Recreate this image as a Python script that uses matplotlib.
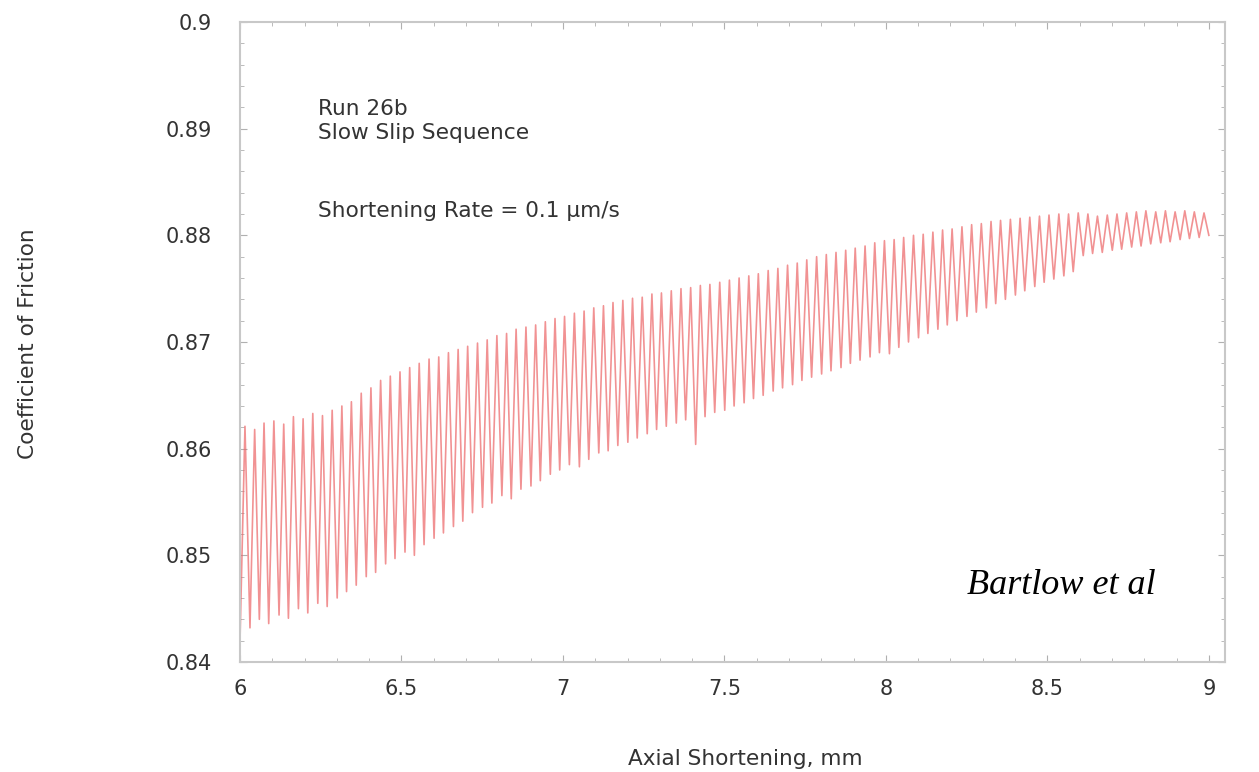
import numpy as np
import matplotlib.pyplot as plt
from matplotlib.ticker import MultipleLocator

# slip positions (mm), trough after each slip, peak before each slip
slip_x = [6.000, 6.031, 6.060, 6.089, 6.121, 6.150, 6.181, 6.210, 6.241, 6.270,
          6.301, 6.330, 6.360, 6.391, 6.420, 6.451, 6.480, 6.511, 6.540, 6.570,
          6.601, 6.630, 6.661, 6.690, 6.720, 6.751, 6.780, 6.811, 6.840, 6.870,
          6.901, 6.930, 6.961, 6.990, 7.020, 7.051, 7.080, 7.111, 7.140, 7.170,
          7.201, 7.230, 7.261, 7.290, 7.320, 7.351, 7.380, 7.411, 7.440, 7.470,
          7.501, 7.530, 7.561, 7.590, 7.620, 7.651, 7.680, 7.711, 7.740, 7.770,
          7.801, 7.830, 7.861, 7.890, 7.920, 7.951, 7.980, 8.011, 8.040, 8.070,
          8.101, 8.130, 8.161, 8.190, 8.220, 8.251, 8.280, 8.311, 8.340, 8.370,
          8.401, 8.430, 8.461, 8.490, 8.520, 8.551, 8.580, 8.611, 8.640, 8.670,
          8.701, 8.730, 8.761, 8.790, 8.820, 8.851, 8.880, 8.911, 8.940, 8.970,
          9.000]

trough = [0.8418, 0.8432, 0.8440, 0.8436, 0.8444, 0.8441, 0.8450, 0.8446, 0.8455, 0.8452,
          0.8460, 0.8466, 0.8472, 0.8480, 0.8484, 0.8492, 0.8497, 0.8503, 0.8500, 0.8510,
          0.8516, 0.8521, 0.8527, 0.8532, 0.8540, 0.8545, 0.8549, 0.8556, 0.8553, 0.8562,
          0.8565, 0.8570, 0.8576, 0.8580, 0.8585, 0.8583, 0.8590, 0.8596, 0.8598, 0.8603,
          0.8606, 0.8610, 0.8614, 0.8618, 0.8621, 0.8624, 0.8627, 0.8604, 0.8630, 0.8634,
          0.8636, 0.8640, 0.8643, 0.8647, 0.8650, 0.8654, 0.8657, 0.8660, 0.8664, 0.8667,
          0.8670, 0.8673, 0.8676, 0.8680, 0.8683, 0.8686, 0.8690, 0.8689, 0.8695, 0.8700,
          0.8704, 0.8708, 0.8712, 0.8716, 0.8720, 0.8724, 0.8728, 0.8732, 0.8736, 0.8740,
          0.8744, 0.8748, 0.8752, 0.8756, 0.8759, 0.8762, 0.8766, 0.8781, 0.8783, 0.8784,
          0.8786, 0.8787, 0.8789, 0.8790, 0.8792, 0.8793, 0.8794, 0.8796, 0.8797, 0.8798,
          0.8800]

peak = [0.8621, 0.8618, 0.8624, 0.8626, 0.8623, 0.8630, 0.8628, 0.8633, 0.8631, 0.8636,
        0.8640, 0.8644, 0.8652, 0.8657, 0.8664, 0.8668, 0.8672, 0.8676, 0.8680, 0.8684,
        0.8686, 0.8690, 0.8693, 0.8696, 0.8699, 0.8702, 0.8706, 0.8708, 0.8712, 0.8714,
        0.8716, 0.8719, 0.8722, 0.8724, 0.8727, 0.8729, 0.8732, 0.8734, 0.8737, 0.8739,
        0.8741, 0.8742, 0.8745, 0.8746, 0.8748, 0.8750, 0.8751, 0.8753, 0.8754, 0.8756,
        0.8758, 0.8760, 0.8762, 0.8764, 0.8767, 0.8769, 0.8772, 0.8774, 0.8777, 0.8780,
        0.8782, 0.8784, 0.8786, 0.8788, 0.8790, 0.8793, 0.8795, 0.8796, 0.8798, 0.8800,
        0.8801, 0.8803, 0.8805, 0.8806, 0.8808, 0.8810, 0.8811, 0.8813, 0.8814, 0.8815,
        0.8816, 0.8817, 0.8818, 0.8819, 0.8820, 0.8820, 0.8821, 0.8820, 0.8818, 0.8819,
        0.8820, 0.8821, 0.8822, 0.8823, 0.8822, 0.8823, 0.8822, 0.8823, 0.8822, 0.8821]

yticks = [0.84, 0.85, 0.86, 0.87, 0.88, 0.89, 0.9]
ytick_labels = ['0.84', '0.85', '0.86', '0.87', '0.88', '0.89', '0.9']
xticks = [6, 6.5, 7, 7.5, 8, 8.5, 9]
xtick_labels = ['6', '6.5', '7', '7.5', '8', '8.5', '9']

# steep load up to the peak midway, then slip down to the next trough
xs, ys = [slip_x[0]], [trough[0]]
for i in range(len(peak)):
    xs += [(slip_x[i] + slip_x[i + 1]) / 2, slip_x[i + 1]]
    ys += [peak[i], trough[i + 1]]

plt.rcParams['font.family'] = ['DejaVu Sans']
fs = 15.6
txt = '#333333'
fig = plt.figure(figsize=(12.59, 7.72), dpi=100)
ax = fig.add_axes([0.1906, 0.1425, 0.7824, 0.829])
ax.plot(xs, ys, color='#ec6466', lw=1.2, alpha=0.7)

ax.set_xlim(6, 9.05)
ax.set_ylim(0.84, 0.9)
ax.set_xticks(xticks)
ax.set_xticklabels(xtick_labels)
ax.set_yticks(yticks)
ax.set_yticklabels(ytick_labels)
ax.xaxis.set_minor_locator(MultipleLocator(0.1))
ax.yaxis.set_minor_locator(MultipleLocator(0.002))
ax.tick_params(which='both', direction='in', color='#b0b0b0', top=True, right=True,
               labelsize=15, labelcolor=txt)
ax.tick_params(which='major', length=5)
ax.tick_params(which='minor', length=3)
ax.tick_params(axis='y', pad=20)
ax.tick_params(axis='x', pad=12.5)
for s in ax.spines.values():
    s.set_color('#c8c8c8')
    s.set_linewidth(1.5)

fig.text(745 / 1259, 1 - 759 / 772, 'Axial Shortening, mm', fontsize=fs, color=txt,
         ha='center', va='center')
fig.text(28 / 1259, 1 - 344 / 772, 'Coefficient of Friction', fontsize=fs, color=txt,
         ha='center', va='center', rotation=90)

ax.text(6.2415, 0.89184, 'Run 26b', fontsize=fs, color=txt, va='center')
ax.text(6.2415, 0.88959, 'Slow Slip Sequence', fontsize=fs, color=txt, va='center')
ax.text(6.2415, 0.88228, 'Shortening Rate = 0.1 μm/s', fontsize=fs, color=txt,
        va='center')
ax.text(8.542, 0.84713, 'Bartlow et al', fontsize=26, style='italic',
        family=['Liberation Serif', 'DejaVu Serif'], color='black', va='center', ha='center')

fig.savefig('out.png', dpi=100)
